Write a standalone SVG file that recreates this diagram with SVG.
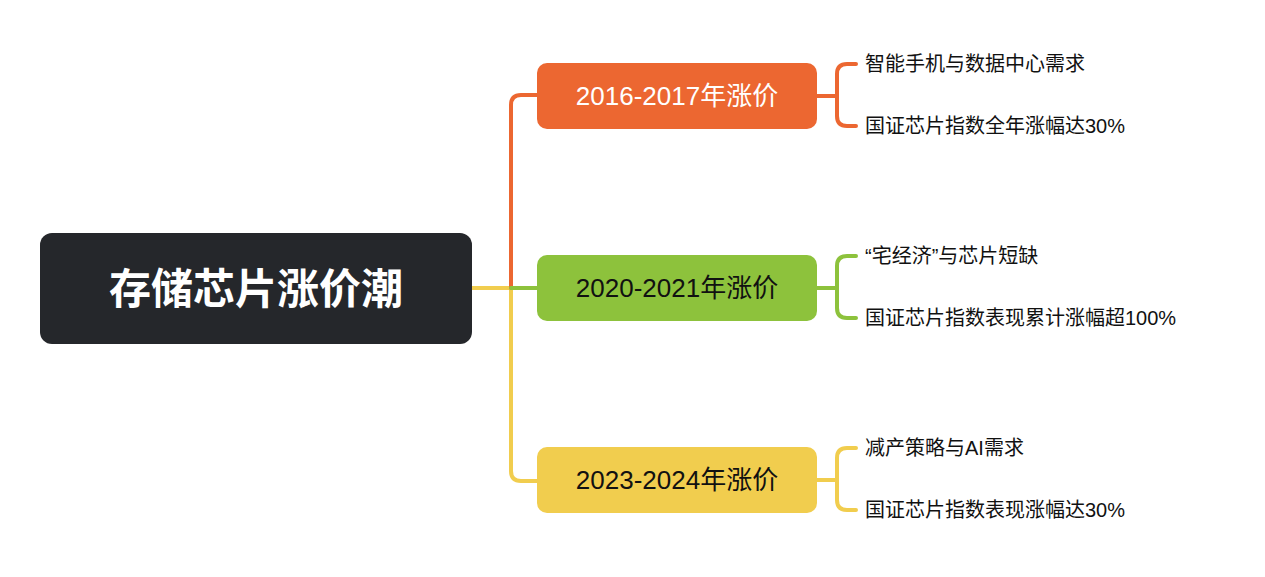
<svg xmlns="http://www.w3.org/2000/svg" width="1265" height="577" viewBox="0 0 1265 577">
<style>
.c{fill:none;stroke-width:4;stroke-linecap:round;stroke-linejoin:round}
.o{stroke:#ec6731}.g{stroke:#8dc23c}.y{stroke:#f1cd4e}
.t{font-family:"Liberation Sans","Noto Sans CJK SC",sans-serif}
.b{font-size:26px;text-anchor:middle;dominant-baseline:central}
.l{font-size:20px;fill:#111;dominant-baseline:central}
</style>
<rect width="1265" height="577" fill="#fff"/>
<g id="connectors">
<path class="c y" d="M472 288H511V471Q511 481 521 481H537"/>
<path class="c o" d="M511 288V105Q511 95 521 95H537"/>
<path class="c g" d="M511 288H537"/>
<path class="c o" d="M817 96H837M856 64H847Q837 64 837 74V116Q837 126 847 126H856"/>
<path class="c g" d="M817 288H837M856 256H847Q837 256 837 266V308Q837 318 847 318H856"/>
<path class="c y" d="M817 480H837M856 448H847Q837 448 837 458V500Q837 510 847 510H856"/>
</g>
<g id="root"><rect x="40" y="233" width="432" height="111" rx="12" fill="#25272b"/>
<text class="t" x="256" y="289" font-size="42" font-weight="bold" fill="#fff" text-anchor="middle" dominant-baseline="central">存储芯片涨价潮</text></g>
<g id="n1"><rect x="537" y="63" width="280" height="66" rx="10" fill="#ec6731"/><text class="t b" x="677" y="96" fill="#fff">2016-2017年涨价</text></g>
<g id="n2"><rect x="537" y="255" width="280" height="66" rx="10" fill="#8dc23c"/><text class="t b" x="677" y="288" fill="#111">2020-2021年涨价</text></g>
<g id="n3"><rect x="537" y="447" width="280" height="66" rx="10" fill="#f1cd4e"/><text class="t b" x="677" y="480" fill="#111">2023-2024年涨价</text></g>
<g id="l1"><text class="t l" x="865" y="64">智能手机与数据中心需求</text></g>
<g id="l2"><text class="t l" x="865" y="126">国证芯片指数全年涨幅达30%</text></g>
<g id="l3"><text class="t l" x="865" y="256">“宅经济”与芯片短缺</text></g>
<g id="l4"><text class="t l" x="865" y="318">国证芯片指数表现累计涨幅超100%</text></g>
<g id="l5"><text class="t l" x="865" y="448">减产策略与AI需求</text></g>
<g id="l6"><text class="t l" x="865" y="510">国证芯片指数表现涨幅达30%</text></g>
</svg>
